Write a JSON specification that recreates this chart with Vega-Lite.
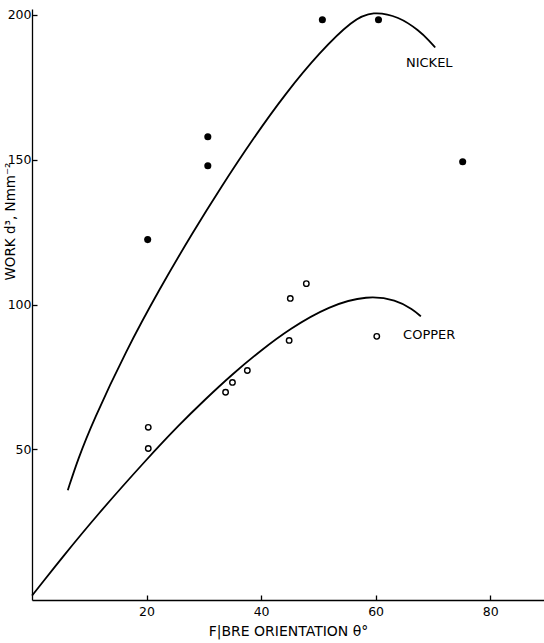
{
  "$schema": "https://vega.github.io/schema/vega-lite/v6.json",
  "width": 512,
  "height": 591,
  "autosize": "none",
  "padding": {"left": 32, "top": 9, "right": 0, "bottom": 43},
  "background": "white",
  "config": {
    "view": {"stroke": null},
    "font": "DejaVu Sans",
    "axis": {
      "domainColor": "black",
      "domainWidth": 1.3,
      "tickColor": "black",
      "tickWidth": 1.3,
      "grid": false,
      "labelColor": "black",
      "titleColor": "black",
      "labelFont": "DejaVu Sans",
      "titleFont": "DejaVu Sans",
      "labelFontSize": 12.5,
      "titleFontSize": 13.5,
      "titleFontWeight": "normal"
    }
  },
  "datasets": {
    "pts": [
      {"metal": "Nickel", "theta": 20.2, "work": 122.4},
      {"metal": "Nickel", "theta": 30.7, "work": 157.9},
      {"metal": "Nickel", "theta": 30.7, "work": 147.9},
      {"metal": "Nickel", "theta": 50.7, "work": 198.3},
      {"metal": "Nickel", "theta": 60.5, "work": 198.3},
      {"metal": "Nickel", "theta": 75.2, "work": 149.3},
      {"metal": "Copper", "theta": 20.3, "work": 57.6},
      {"metal": "Copper", "theta": 20.3, "work": 50.3},
      {"metal": "Copper", "theta": 33.8, "work": 69.7},
      {"metal": "Copper", "theta": 35.0, "work": 73.1},
      {"metal": "Copper", "theta": 37.6, "work": 77.2},
      {"metal": "Copper", "theta": 45.1, "work": 102.1},
      {"metal": "Copper", "theta": 47.9, "work": 107.2},
      {"metal": "Copper", "theta": 44.9, "work": 87.6},
      {"metal": "Copper", "theta": 60.2, "work": 89.0}
    ],
    "curves": [
      {"metal": "Nickel", "theta": 6.25, "work": 35.9},
      {"metal": "Nickel", "theta": 8.0, "work": 46.5},
      {"metal": "Nickel", "theta": 10.6, "work": 59.5},
      {"metal": "Nickel", "theta": 16.4, "work": 84},
      {"metal": "Nickel", "theta": 22.3, "work": 105.5},
      {"metal": "Nickel", "theta": 28.1, "work": 125},
      {"metal": "Nickel", "theta": 33.0, "work": 140.5},
      {"metal": "Nickel", "theta": 38.5, "work": 157},
      {"metal": "Nickel", "theta": 44.4, "work": 173.2},
      {"metal": "Nickel", "theta": 50.2, "work": 187},
      {"metal": "Nickel", "theta": 56.0, "work": 198.3},
      {"metal": "Nickel", "theta": 59.5, "work": 201.3},
      {"metal": "Nickel", "theta": 64.1, "work": 199.4},
      {"metal": "Nickel", "theta": 67.6, "work": 194.5},
      {"metal": "Nickel", "theta": 69.4, "work": 191},
      {"metal": "Nickel", "theta": 70.4, "work": 188.7},
      {"metal": "Copper", "theta": 0, "work": -0.5},
      {"metal": "Copper", "theta": 2, "work": 4.5},
      {"metal": "Copper", "theta": 5, "work": 12},
      {"metal": "Copper", "theta": 11.2, "work": 27},
      {"metal": "Copper", "theta": 20.3, "work": 47.2},
      {"metal": "Copper", "theta": 25.7, "work": 58.5},
      {"metal": "Copper", "theta": 30, "work": 66.8},
      {"metal": "Copper", "theta": 35, "work": 76},
      {"metal": "Copper", "theta": 40, "work": 84.2},
      {"metal": "Copper", "theta": 44.9, "work": 91.5},
      {"metal": "Copper", "theta": 51.9, "work": 99.6},
      {"metal": "Copper", "theta": 58.6, "work": 103.2},
      {"metal": "Copper", "theta": 63.6, "work": 101.6},
      {"metal": "Copper", "theta": 66.5, "work": 98.3},
      {"metal": "Copper", "theta": 67.9, "work": 95.9}
    ],
    "labels": [
      {"label": "NICKEL", "theta": 65.3, "work": 183.3},
      {"label": "COPPER", "theta": 64.8, "work": 89.3}
    ]
  },
  "layer": [
    {
      "data": {"name": "curves"},
      "mark": {"type": "line", "color": "black", "strokeWidth": 1.8, "interpolate": "basis"},
      "encoding": {
        "x": {
          "field": "theta", "type": "quantitative",
          "scale": {"domain": [0, 89.4], "nice": false, "zero": false},
          "axis": {"values": [20, 40, 60, 80], "title": "F|BRE  ORIENTATION θ°", "titleFontSize": 14, "titlePadding": 7, "tickSize": -5, "labelPadding": 10, "labelFlush": false}
        },
        "y": {
          "field": "work", "type": "quantitative",
          "scale": {"domain": [-2, 202], "nice": false, "zero": false},
          "axis": {"values": [50, 100, 150, 200], "title": "WORK  d³, Nmm⁻²", "titleY": 212, "titleX": -15, "tickSize": -5, "labelPadding": 6, "labelFlush": false}
        },
        "detail": {"field": "metal"}
      }
    },
    {
      "data": {"name": "pts"},
      "transform": [{"filter": "datum.metal === 'Nickel'"}],
      "mark": {"type": "point", "shape": "circle", "filled": true, "color": "black", "size": 50, "opacity": 1},
      "encoding": {
        "x": {"field": "theta", "type": "quantitative"},
        "y": {"field": "work", "type": "quantitative"}
      }
    },
    {
      "data": {"name": "pts"},
      "transform": [{"filter": "datum.metal === 'Copper'"}],
      "mark": {"type": "point", "shape": "circle", "filled": false, "color": "black", "size": 30, "strokeWidth": 1.4, "opacity": 1},
      "encoding": {
        "x": {"field": "theta", "type": "quantitative"},
        "y": {"field": "work", "type": "quantitative"}
      }
    },
    {
      "data": {"name": "labels"},
      "mark": {"type": "text", "align": "left", "baseline": "middle", "font": "DejaVu Sans", "fontSize": 13, "color": "black"},
      "encoding": {
        "x": {"field": "theta", "type": "quantitative"},
        "y": {"field": "work", "type": "quantitative"},
        "text": {"field": "label"}
      }
    }
  ]
}
